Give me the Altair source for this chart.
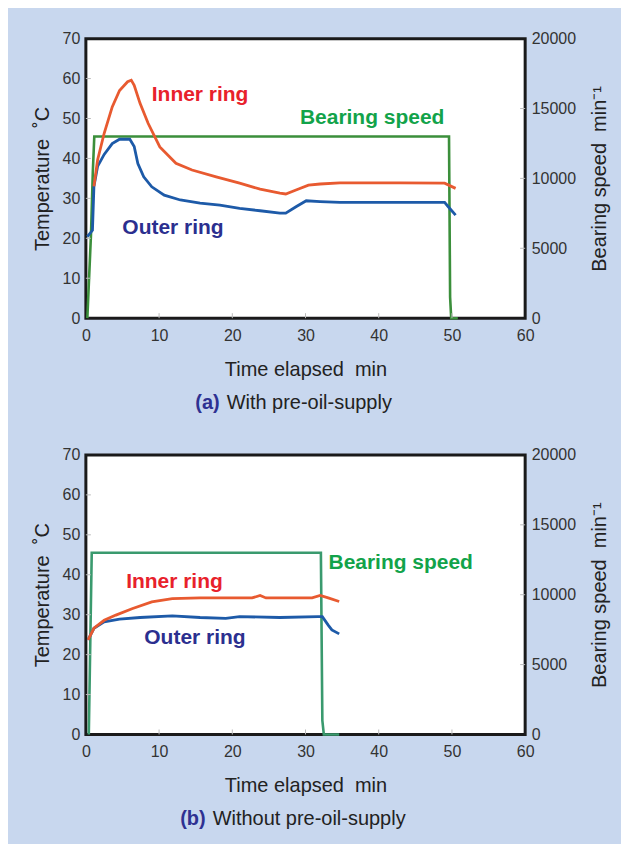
import altair as alt
import pandas as pd

# ---------------- data ----------------
x_ticks = [0, 10, 20, 30, 40, 50, 60]
temp_ticks = [0, 10, 20, 30, 40, 50, 60, 70]
speed_ticks = [0, 5000, 10000, 15000, 20000]

# (a) With pre-oil-supply
a_inner_time = [1.1, 1.6, 2.5, 3.6, 4.6, 5.7, 6.2, 6.6, 7.4, 8.5, 10.1, 12.3, 14.5, 17.8, 21.0, 23.8, 26.5, 27.3, 28.7, 30.4, 32.0, 34.7, 42.9, 49.0, 50.5]
a_inner_temp = [33.0, 39.6, 46.3, 52.9, 57.0, 59.2, 59.6, 58.3, 53.8, 48.8, 42.9, 38.8, 37.1, 35.4, 33.8, 32.3, 31.3, 31.1, 32.1, 33.3, 33.6, 33.9, 33.9, 33.8, 32.5]
a_outer_time = [0.2, 0.9, 1.1, 1.6, 2.5, 3.6, 4.6, 6.0, 6.6, 7.1, 7.9, 9.0, 10.7, 12.9, 15.6, 18.3, 21.0, 23.8, 26.5, 27.3, 28.7, 30.1, 32.0, 34.7, 42.9, 49.0, 49.5, 50.5]
a_outer_temp = [20.4, 22.0, 33.0, 38.0, 41.0, 43.7, 44.8, 44.8, 43.0, 38.7, 35.4, 32.9, 30.8, 29.6, 28.8, 28.3, 27.5, 26.9, 26.3, 26.3, 27.9, 29.4, 29.2, 29.0, 29.0, 29.0, 27.9, 25.8]
a_speed_time = [0.2, 0.7, 0.95, 1.15, 49.6, 49.75, 49.9, 50.8]
a_speed_val = [0, 6000, 10500, 13000, 13000, 1500, 0, 0]

# (b) Without pre-oil-supply
b_inner_time = [0.3, 1.1, 2.5, 4.1, 6.3, 9.0, 11.8, 15.6, 22.7, 23.8, 24.6, 30.9, 32.0, 33.1, 34.6]
b_inner_temp = [23.7, 26.6, 28.6, 29.9, 31.5, 33.2, 34.0, 34.2, 34.2, 34.8, 34.2, 34.2, 34.8, 34.2, 33.3]
b_outer_time = [0.3, 1.1, 2.5, 4.6, 7.4, 11.8, 15.6, 19.1, 21.0, 26.5, 31.7, 32.3, 33.1, 33.6, 34.6]
b_outer_temp = [23.7, 26.6, 28.2, 28.9, 29.3, 29.7, 29.3, 29.1, 29.5, 29.3, 29.5, 29.5, 27.4, 26.2, 25.2]
b_speed_time = [0.4, 0.8, 32.1, 32.3, 32.5, 34.6]
b_speed_val = [0, 13000, 13000, 1000, 0, 0]

label_text = ["Inner ring", "Outer ring", "Bearing speed"]
label_color = ["#e8212b", "#2b2f8f", "#12a34a"]
a_label_time = [15.6, 11.9, 39.1]
a_label_temp = [55.8, 22.5, 50.0]
b_label_time = [12.1, 14.9, 43.0]
b_label_temp = [38.3, 24.2, 43.0]

tags = ["(a)", "(b)"]
captions = ["With pre-oil-supply", "Without pre-oil-supply"]

# ---------------- styling ----------------
W, H = 440, 280
BG = "#c8d7ee"
INNER = "#e85a30"
OUTER = "#1d5aa8"
SPEED_A = "#3b8f3b"
SPEED_B = "#3a9a6e"
NB = "\u00a0"


def panel(it, iv, ot, ov, st, sv, lt, lv, tag, caption, tag_x, speed_color):
    x_enc = alt.X(
        "t:Q",
        scale=alt.Scale(domain=[0, 60], nice=False),
        axis=alt.Axis(values=x_ticks, title=f"Time elapsed{NB}{NB}min", labelPadding=9,
                      titlePadding=16, labelFlush=False),
    )
    y_temp = alt.Y(
        "temp:Q",
        scale=alt.Scale(domain=[0, 70], nice=False),
        axis=alt.Axis(values=temp_ticks, title=f"Temperature{NB}{NB}˚C", orient="left",
                      labelPadding=6, titlePadding=10),
    )
    y_speed = alt.Y(
        "speed:Q",
        scale=alt.Scale(domain=[0, 20000], nice=False),
        axis=alt.Axis(values=speed_ticks, format="d", title=f"Bearing speed{NB}{NB}min⁻¹",
                      orient="right", labelPadding=6, titlePadding=14, titleAngle=270,
                      titleBaseline="top"),
    )

    inner = pd.DataFrame({"t": it, "temp": iv})
    outer = pd.DataFrame({"t": ot, "temp": ov})
    speed = pd.DataFrame({"t": st, "speed": sv})
    labels = pd.DataFrame({"t": lt, "temp": lv, "txt": label_text, "c": label_color})

    speed_line = alt.Chart(speed).mark_line(color=speed_color, strokeWidth=2.6).encode(x=x_enc, y=y_speed)
    speed_ticks_l = alt.Chart(pd.DataFrame({"speed": speed_ticks[1:-1]})).mark_rule(
        color="#bbbbbb", strokeWidth=1).encode(y=y_speed, x=alt.value(W - 5), x2=alt.value(W))

    outer_line = alt.Chart(outer).mark_line(color=OUTER, strokeWidth=2.8).encode(x=x_enc, y=y_temp)
    inner_line = alt.Chart(inner).mark_line(color=INNER, strokeWidth=2.8).encode(x=x_enc, y=y_temp)
    temp_ticks_l = alt.Chart(pd.DataFrame({"temp": temp_ticks[1:-1]})).mark_rule(
        color="#bbbbbb", strokeWidth=1).encode(y=y_temp, x=alt.value(0), x2=alt.value(5))
    x_ticks_l = alt.Chart(pd.DataFrame({"t": x_ticks[1:-1]})).mark_rule(
        color="#bbbbbb", strokeWidth=1).encode(x=x_enc, y=alt.value(H - 5), y2=alt.value(H))

    txt = alt.Chart(labels).mark_text(font="Liberation Sans", fontSize=21, fontWeight="bold").encode(
        x=x_enc, y=y_temp, text="txt:N", color=alt.Color("c:N", scale=None))

    tag_l = alt.Chart(pd.DataFrame({"s": [tag]})).mark_text(
        font="Liberation Sans", fontSize=20, fontWeight="bold", color="#2e3192",
        align="right", baseline="middle").encode(text="s:N", x=alt.value(tag_x), y=alt.value(H + 85))
    cap_l = alt.Chart(pd.DataFrame({"s": [caption]})).mark_text(
        font="Liberation Sans", fontSize=20, color="#222222",
        align="left", baseline="middle").encode(text="s:N", x=alt.value(tag_x + 7), y=alt.value(H + 85))

    temp_layer = alt.layer(temp_ticks_l, x_ticks_l, outer_line, inner_line, txt, tag_l, cap_l)
    speed_layer = alt.layer(speed_ticks_l, speed_line)
    return alt.layer(speed_layer, temp_layer).resolve_scale(y="independent").properties(width=W, height=H)


pa = panel(a_inner_time, a_inner_temp, a_outer_time, a_outer_temp, a_speed_time, a_speed_val,
           a_label_time, a_label_temp, tags[0], captions[0], 134, SPEED_A)
pb = panel(b_inner_time, b_inner_temp, b_outer_time, b_outer_temp, b_speed_time, b_speed_val,
           b_label_time, b_label_temp, tags[1], captions[1], 120, SPEED_B)

chart = alt.vconcat(pa, pb, spacing=30).properties(
    background=BG,
    padding={"left": 22, "top": 20, "right": 10, "bottom": 12},
).configure_view(
    stroke="#1a1a1a", strokeWidth=3, fill="white"
).configure_axis(
    domain=False, ticks=False, grid=False,
    labelFont="Liberation Sans", labelFontSize=16, labelColor="#333333",
    titleFont="Liberation Sans", titleFontSize=20, titleFontWeight="normal", titleColor="#222222",
)

chart.save("out.html", embed_options={"renderer": "svg", "actions": False})
